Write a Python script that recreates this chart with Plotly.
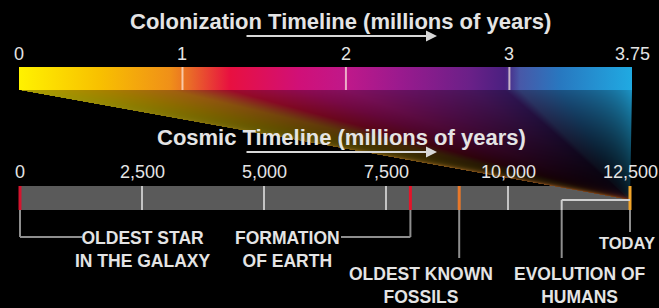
import base64, struct, zlib
import numpy as np
import plotly.graph_objects as go

W, H = 659, 308

# ---------------- data ----------------
col_max = 3.75
col_ticks = [0, 1, 2, 3, 3.75]
col_tick_labels = ["0", "1", "2", "3", "3.75"]
col_grid = [1, 2, 3]

cos_max = 12500
cos_ticks = [0, 2500, 5000, 7500, 10000, 12500]
cos_tick_labels = ["0", "2,500", "5,000", "7,500", "10,000", "12,500"]
cos_grid = [2500, 5000, 7500, 10000]

event_names = ["OLDEST STAR<br>IN THE GALAXY", "FORMATION<br>OF EARTH",
               "OLDEST KNOWN<br>FOSSILS", "EVOLUTION OF<br>HUMANS", "TODAY"]
event_times = [0, 8000, 9000, 11100, 12500]
event_colors = ["#d4142e", "#e3152a", "#e8782a", None, "#f2a52a"]

col_colorscale = [
    [0.000, "#fff200"], [0.132, "#f8c000"], [0.246, "#f09018"],
    [0.279, "#e96a28"], [0.344, "#e81040"], [0.458, "#d01078"],
    [0.533, "#c0188a"], [0.622, "#9a1a8e"], [0.736, "#6a2088"],
    [0.793, "#4a2080"], [0.817, "#4858a8"], [0.883, "#2878c0"],
    [1.000, "#20aae2"],
]

# ---------------- layout geometry (pixels) ----------------
COL_PX0, COL_PX1 = 19, 632
COS_PX0, COS_PX1 = 20, 630
a_col = (COL_PX1 - COL_PX0) / col_max
a_cos = (COS_PX1 - COS_PX0) / cos_max
col_range = [(0 - COL_PX0) / a_col, (W - COL_PX0) / a_col]
cos_range = [(0 - COS_PX0) / a_cos, (W - COS_PX0) / a_cos]

def col2px(v): return COL_PX0 + v * a_col
def cos2px(v): return COS_PX0 + v * a_cos
def px2cos(p): return (p - COS_PX0) / a_cos
def px2col(p): return (p - COL_PX0) / a_col

BAR1_TOP, BAR1_BOT = 67, 90
BAR2_TOP, BAR2_BOT = 186, 210
TIP_Y = 200

# ---------------- fan gradient image (decorative) ----------------
def hex2rgb(h):
    h = h.lstrip("#")
    return [int(h[i:i + 2], 16) for i in (0, 2, 4)]

stops = np.array([s for s, _ in col_colorscale])
rgbs = np.array([hex2rgb(c) for _, c in col_colorscale], dtype=float)

x0px, x1px = COL_PX0, COL_PX1 + 1
y0px, y1px = BAR1_BOT, TIP_Y
px = np.arange(x0px, x1px) + 0.5
py = np.arange(y0px, y1px) + 0.5
PX, PY = np.meshgrid(px, py)
tip_x = cos2px(cos_max)
s = (PY - y0px) / (TIP_Y - y0px)
xu = (PX - s * tip_x) / (1 - s)
frac = (xu - COL_PX0) / (COL_PX1 - COL_PX0)
fc = np.clip(frac, 0, 1)
rgb = np.stack([np.interp(fc, stops, rgbs[:, k]) for k in range(3)], axis=-1)
dist_left = np.clip((xu - COL_PX0) * (1 - s), 0, None)
dist_right = np.clip((COL_PX1 - xu) * (1 - s), 0, None)
bright = 0.68 * (1 - s) ** 1.3 + 0.2 * np.exp(-dist_right / 18.0)
rgb = rgb * bright[..., None]
gw = 0.8 * np.exp(-dist_left / 13.0) * np.clip(0.3 + s, 0, 1)
glow_col = (np.array([170, 148, 28])[None, None, :] * (1 - s[..., None])
            + np.array([160, 82, 36])[None, None, :] * s[..., None])
rgb = rgb * (1 - gw[..., None]) + glow_col * gw[..., None]
alpha = np.clip(np.minimum((xu - COL_PX0) * (1 - s), (COL_PX1 - xu) * (1 - s)) + 0.5, 0, 1)
rgba = np.concatenate([rgb, (alpha * 255)[..., None]], axis=-1)
rgba = np.clip(rgba, 0, 255).astype(np.uint8)

def png_uri(arr):
    h, w, _ = arr.shape
    raw = b"".join(b"\x00" + arr[r].tobytes() for r in range(h))
    def chunk(t, d):
        return struct.pack(">I", len(d)) + t + d + struct.pack(">I", zlib.crc32(t + d) & 0xFFFFFFFF)
    png = (b"\x89PNG\r\n\x1a\n"
           + chunk(b"IHDR", struct.pack(">IIBBBBB", w, h, 8, 6, 0, 0, 0))
           + chunk(b"IDAT", zlib.compress(raw, 9))
           + chunk(b"IEND", b""))
    return "data:image/png;base64," + base64.b64encode(png).decode()

fan_uri = png_uri(rgba)

# ---------------- figure ----------------
fig = go.Figure()

# colonization bar (gradient)
fig.add_trace(go.Scatter(
    x=[0, col_max, col_max, 0, 0],
    y=[BAR1_TOP, BAR1_TOP, BAR1_BOT, BAR1_BOT, BAR1_TOP],
    mode="lines", line=dict(width=0), fill="toself",
    fillgradient=dict(type="horizontal", colorscale=col_colorscale, start=0, stop=col_max),
    xaxis="x", yaxis="y", hoverinfo="skip", showlegend=False))

# cosmic bar
fig.add_trace(go.Bar(
    x=[cos_max], base=[0], y=[(BAR2_TOP + BAR2_BOT) / 2], width=[BAR2_BOT - BAR2_TOP],
    orientation="h", marker=dict(color="#5a5a5a", line=dict(width=0)),
    xaxis="x2", yaxis="y", hoverinfo="skip", showlegend=False))

shapes = []
for t in col_grid:
    shapes.append(dict(type="line", xref="x", yref="y", x0=t, x1=t, y0=BAR1_TOP, y1=BAR1_BOT,
                       line=dict(color="rgba(255,235,225,0.7)", width=2)))
for t in cos_grid:
    shapes.append(dict(type="line", xref="x2", yref="y", x0=t, x1=t, y0=BAR2_TOP, y1=BAR2_BOT,
                       line=dict(color="#c4c4c4", width=2)))
for t, c in zip(event_times, event_colors):
    if c:
        shapes.append(dict(type="line", xref="x2", yref="y", x0=t, x1=t, y0=BAR2_TOP, y1=BAR2_BOT,
                           line=dict(color=c, width=3)))

gray = "#8e8e8e"
def vline(t, y0, y1, color=gray):
    shapes.append(dict(type="line", xref="x2", yref="y", x0=t, x1=t, y0=y0, y1=y1,
                       line=dict(color=color, width=2)))
def hline(t0, t1, y, color=gray):
    shapes.append(dict(type="line", xref="x2", yref="y", x0=t0, x1=t1, y0=y, y1=y,
                       line=dict(color=color, width=2)))

vline(event_times[0], BAR2_BOT, 237); hline(event_times[0], px2cos(82), 237)
vline(event_times[1], BAR2_BOT, 237); hline(event_times[1], px2cos(341), 237)
vline(event_times[2], BAR2_BOT, 258)
vline(event_times[3], TIP_Y, BAR2_BOT, "#cfcfcf"); vline(event_times[3], BAR2_BOT, 258)
hline(event_times[3], event_times[4], TIP_Y, "#cfcfcf")
vline(event_times[4], BAR2_BOT, 232)

fig.update_layout(shapes=shapes)

fig.add_layout_image(dict(
    source=fan_uri, xref="x", yref="y", x=px2col(x0px), y=y0px,
    sizex=(x1px - x0px) / a_col, sizey=y1px - y0px,
    xanchor="left", yanchor="top", sizing="stretch", layer="above"))

FONT = "Liberation Sans, Arial, sans-serif"
txt = "#e4e4e4"
ann = []
for v, lab in zip(col_ticks, col_tick_labels):
    ann.append(dict(x=v, y=54, xref="x", yref="y", text=lab, showarrow=False,
                    font=dict(family=FONT, size=18, color=txt), xanchor="center", yanchor="middle"))
for v, lab in zip(cos_ticks, cos_tick_labels):
    ann.append(dict(x=v, y=172, xref="x2", yref="y", text=lab, showarrow=False,
                    font=dict(family=FONT, size=18, color=txt), xanchor="center", yanchor="middle"))

ann.append(dict(x=340 / W, y=21, xref="paper", yref="y", showarrow=False,
                text="Colonization Timeline (millions of years)",
                font=dict(family=FONT, size=22, color=txt, weight="bold")))
ann.append(dict(x=341 / W, y=137, xref="paper", yref="y", showarrow=False,
                text="Cosmic Timeline (millions of years)",
                font=dict(family=FONT, size=22, color=txt, weight="bold")))
for yy in (36, 152):
    ann.append(dict(x=437 / W, y=yy, xref="paper", yref="y", ax=-192, ay=0,
                    axref="pixel", ayref="pixel", text="", showarrow=True,
                    arrowhead=2, arrowsize=1.1, arrowwidth=2, arrowcolor="#d8d8d8"))

label_pos = [(142, 249.5, "center", 17.5), (287, 249.5, "center", 17.5),
             (421, 285, "center", 17.5), (580, 285, "center", 17.5),
             (657, 243, "right", 16.5)]
for name, (lx, ly, xa, fs) in zip(event_names, label_pos):
    ann.append(dict(x=lx / W, y=ly, xref="paper", yref="y", text=name, showarrow=False,
                    xanchor=xa, yanchor="middle", align="center",
                    font=dict(family=FONT, size=fs, color=txt, weight="bold")))

fig.update_layout(
    annotations=ann,
    width=W, height=H, margin=dict(l=0, r=0, t=0, b=0),
    paper_bgcolor="black", plot_bgcolor="black",
    showlegend=False, bargap=0,
    xaxis=dict(range=col_range, visible=False, fixedrange=True),
    xaxis2=dict(range=cos_range, visible=False, overlaying="x", fixedrange=True),
    yaxis=dict(range=[H, 0], visible=False, fixedrange=True),
)

fig.write_html("out.html", config={"displayModeBar": False},
               post_script="document.body.style.margin='0';document.body.style.overflow='hidden';document.body.style.background='black';")
